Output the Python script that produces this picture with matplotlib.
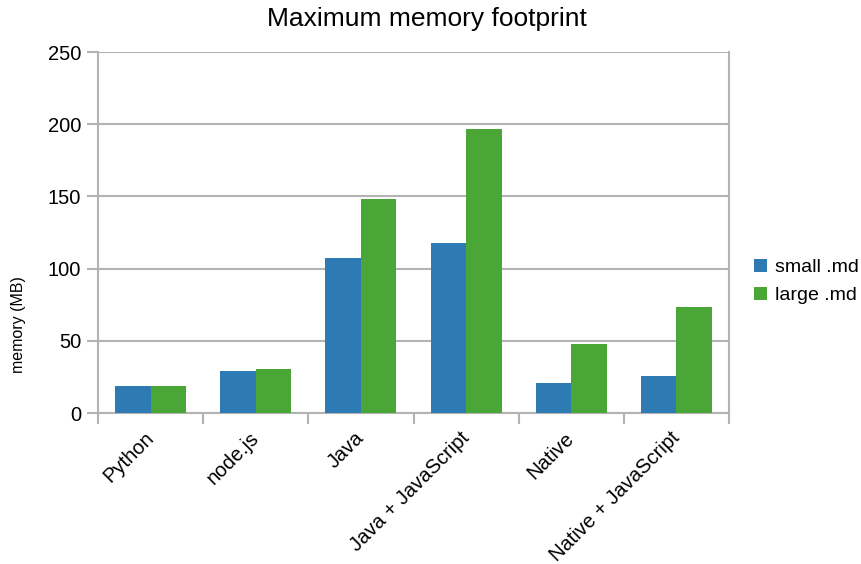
import matplotlib
matplotlib.use("Agg")
import matplotlib.pyplot as plt
import numpy as np

plt.rcParams['font.family'] = ['Liberation Sans', 'DejaVu Sans']

categories = ["Python", "node.js", "Java", "Java + JavaScript", "Native", "Native + JavaScript"]
small_md = [18.7, 29.1, 107.3, 117.7, 20.8, 25.6]
large_md = [18.7, 30.5, 148.2, 196.7, 47.8, 73.4]

blue = "#2e7bb4"
green = "#4aa737"
grid_grey = "#b3b3b3"

fig = plt.figure(figsize=(8.62, 5.64), dpi=100)
ax = fig.add_axes([0.1137, 0.2677, 0.7320, 0.6401])

x = np.arange(len(categories))
w = 0.338
ax.bar(x - w / 2, small_md, w, color=blue, label="small .md", zorder=3)
ax.bar(x + w / 2, large_md, w, color=green, label="large .md", zorder=3)

ax.set_xlim(-0.5, len(categories) - 0.5)
ax.set_ylim(0, 250)
ax.set_yticks(np.arange(0, 251, 50))
ax.yaxis.grid(True, color=grid_grey, linewidth=1.5, zorder=0)

# category labels sit at the centres, tick marks at the boundaries
ax.set_xticks(x)
ax.set_xticklabels(categories, rotation=45, ha="right", va="center",
                   rotation_mode="anchor", fontsize=14.5)
ax.tick_params(axis="x", which="major", length=0, pad=16)
ax.set_xticks(np.arange(-0.5, len(categories), 1), minor=True)
ax.tick_params(axis="x", which="minor", length=8, width=1.5, color=grid_grey)
ax.tick_params(axis="y", length=8, width=1.5, color=grid_grey, labelsize=14.5, pad=4)

for side in ["left", "right", "bottom"]:
    ax.spines[side].set_color(grid_grey)
    ax.spines[side].set_linewidth(1.5)
ax.spines["top"].set_visible(False)

ax.set_ylabel("memory (MB)", fontsize=11.5)
ax.yaxis.set_label_coords(-0.114, 0.245)
ax.set_title("Maximum memory footprint", fontsize=19, x=0.521, y=1.0, pad=19)

ax.legend(loc="center left", bbox_to_anchor=(1.028, 0.365), frameon=False, fontsize=14,
          handlelength=0.65, handleheight=0.65, handletextpad=0.4, labelspacing=0.55,
          borderaxespad=0)

fig.savefig("out.png", dpi=100)
